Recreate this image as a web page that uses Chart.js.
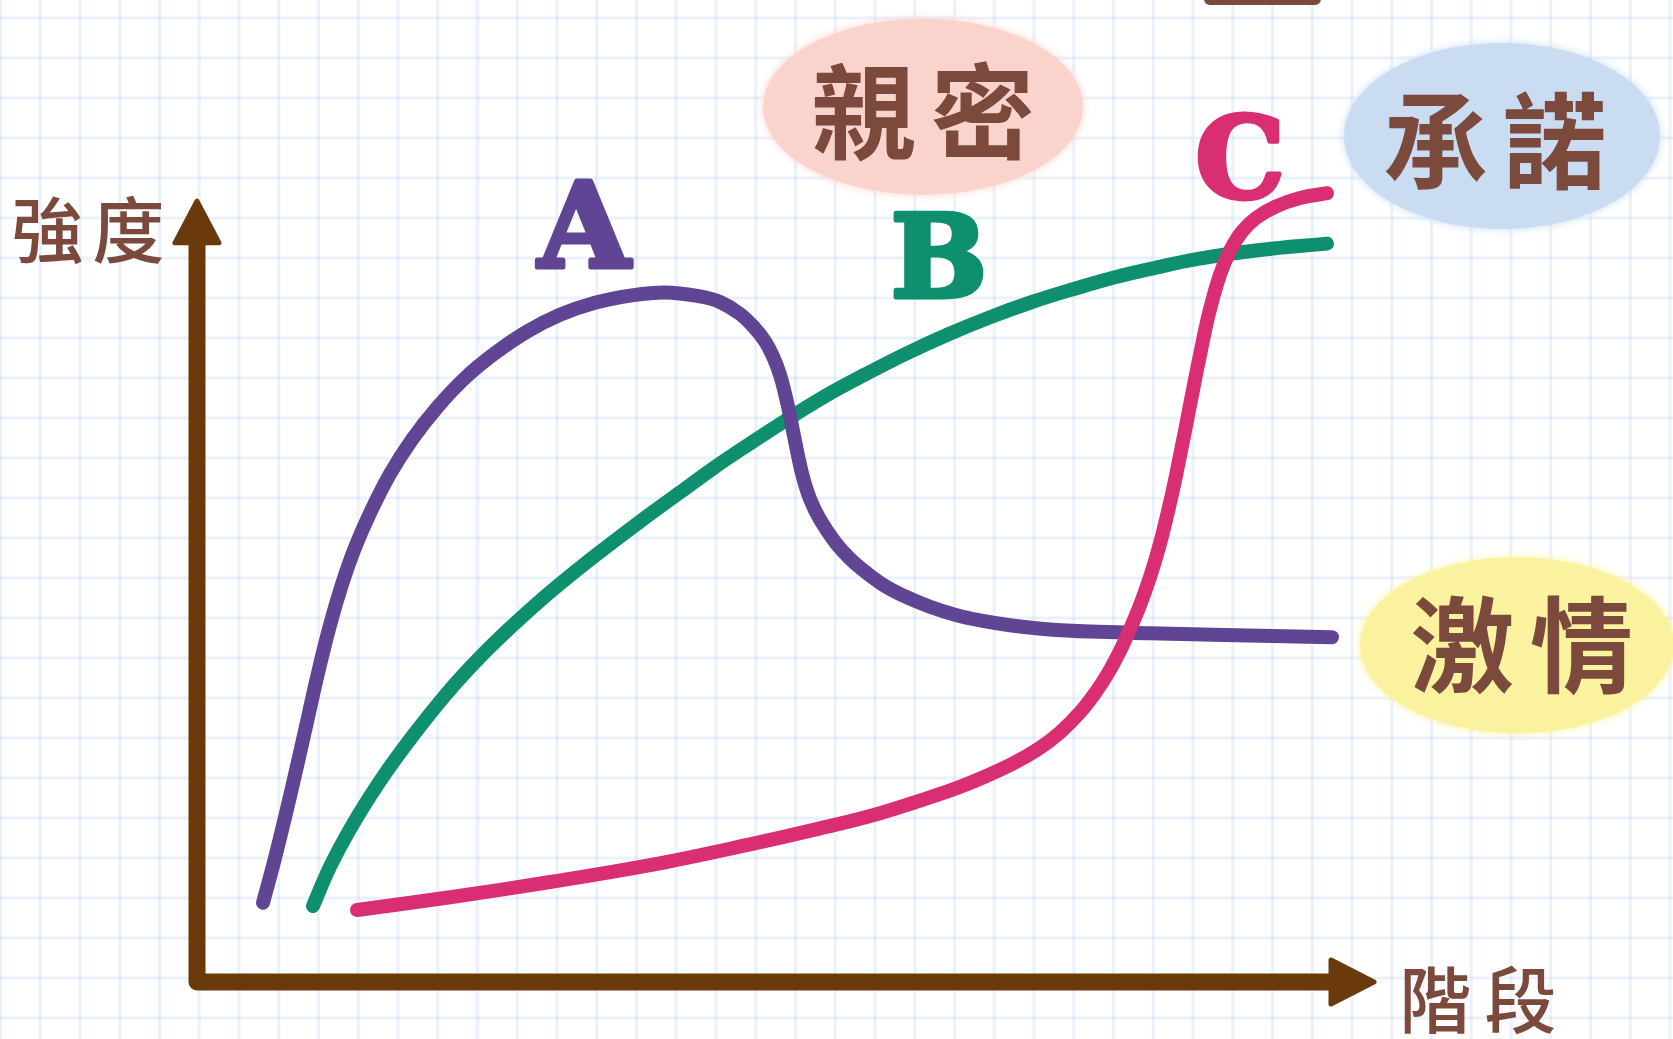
<!DOCTYPE html>
<html>
<head>
<meta charset="utf-8">
<script src="https://cdn.jsdelivr.net/npm/chart.js@4.4.1/dist/chart.umd.min.js"></script>
<style>
html,body{margin:0;padding:0;background:#fff;overflow:hidden}
canvas{display:block}
</style>
</head>
<body>
<canvas id="c" width="1673" height="1039"></canvas>
<script>
// ---- data (stage on x, intensity on y) ----
// A : 激情 (passion)
const stageA = [0.66,0.78,0.93,1.08,1.21,1.33,1.45,1.58,1.73,1.93,2.15,2.40,2.68,2.98,3.30,3.63,3.98,4.33,4.68,5.03,5.23,5.43,5.58,5.68,5.76,5.83,5.90,5.96,6.01,6.06,6.13,6.23,6.38,6.53,6.69,6.88,7.08,7.33,7.58,7.83,8.13,8.50,8.93,9.53,10.16,11.35];
const intensityA = [0.99,1.55,2.32,3.14,3.86,4.46,4.97,5.43,5.86,6.35,6.78,7.18,7.55,7.86,8.13,8.34,8.49,8.58,8.62,8.57,8.50,8.35,8.17,8.01,7.82,7.59,7.25,6.89,6.58,6.31,6.04,5.78,5.50,5.29,5.12,4.95,4.82,4.69,4.59,4.52,4.46,4.41,4.38,4.36,4.34,4.31];
// B : 親密 (intimacy)
const stageB = [1.16,1.33,1.53,1.83,2.16,2.50,2.83,3.16,3.50,3.83,4.16,4.50,4.83,5.16,5.48,5.90,6.29,6.69,7.10,7.52,7.93,8.35,8.76,9.18,9.59,10.01,10.63,11.30];
const intensityB = [0.95,1.44,1.91,2.51,3.08,3.61,4.06,4.46,4.84,5.18,5.50,5.82,6.12,6.42,6.69,7.03,7.33,7.60,7.86,8.10,8.31,8.50,8.66,8.81,8.93,9.04,9.15,9.23];
// C : 承諾 (commitment)
const stageC = [1.60,2.53,3.53,4.53,5.53,6.23,6.83,7.50,7.83,8.16,8.41,8.63,8.83,8.98,9.11,9.23,9.33,9.43,9.53,9.63,9.73,9.78,9.83,9.88,9.93,9.98,10.03,10.08,10.13,10.23,10.33,10.45,10.59,10.78,11.03,11.30];
const intensityC = [0.90,1.06,1.25,1.46,1.72,1.92,2.11,2.38,2.54,2.73,2.91,3.12,3.37,3.61,3.86,4.14,4.41,4.71,5.06,5.48,5.99,6.27,6.58,6.89,7.21,7.53,7.84,8.14,8.41,8.84,9.14,9.38,9.55,9.69,9.80,9.86];

// series letters
const seriesLetters = ['A','B','C'];
const letterX = [3.87, 7.42, 10.43];
const letterY = [8.94, 8.56, 9.81];

// component labels (on coloured blobs)
const compLabels = ['親密','承諾','激情'];
const compX = [7.26, 12.98, 13.25];
const compY = [10.875, 10.51, 4.21];
const blobX = [7.26, 13.05, 13.20];
const blobY = [10.94, 10.575, 4.21];

// axis titles
const axisTitles = ['強度','階段'];
const axisTitleX = [-1.09, 12.81];
const axisTitleY = [9.40, -0.225];

const toPts = (xs, ys) => xs.map((x, i) => ({x, y: ys[i]}));

const COL_A = '#5F4594', COL_B = '#0E8F6E', COL_C = '#D92F72';
const BROWN = '#6A3A0C', TEXT = '#7B4A3D';
const BLOB_COL = ['#FBD3CD', '#C9DCF1', '#FAF29E'];

function spaced(ctx, text, cx, cy, adv) {
  const chars = [...text];
  const start = cx - adv * (chars.length - 1) / 2;
  chars.forEach((ch, i) => ctx.fillText(ch, start + i * adv, cy));
}

const paper = {
  id: 'paper',
  beforeDraw(chart) {
    const {ctx, width, height} = chart;
    const X = v => chart.scales.x.getPixelForValue(v);
    const Y = v => chart.scales.y.getPixelForValue(v);
    ctx.save();
    ctx.fillStyle = '#ffffff';
    ctx.fillRect(0, 0, width, height);
    // graph paper
    ctx.strokeStyle = 'rgba(196,214,240,0.34)';
    ctx.lineWidth = 3;
    for (let x = 0.5; x < width; x += 39.75) {
      ctx.beginPath(); ctx.moveTo(x, 0); ctx.lineTo(x, height); ctx.stroke();
    }
    for (let y = 18; y < height; y += 40) {
      ctx.beginPath(); ctx.moveTo(0, y); ctx.lineTo(width, y); ctx.stroke();
    }
    // blobs
    const rx = [160, 158, 157], ry = [88, 93, 88];
    blobX.forEach((bx, i) => {
      ctx.save();
      ctx.fillStyle = BLOB_COL[i];
      ctx.shadowColor = BLOB_COL[i];
      ctx.shadowBlur = 8;
      ctx.beginPath();
      ctx.ellipse(X(bx), Y(blobY[i]), rx[i], ry[i], 0, 0, Math.PI * 2);
      ctx.fill();
      ctx.restore();
    });
    // top cut-off stroke
    ctx.fillStyle = TEXT;
    ctx.beginPath();
    ctx.roundRect(1204, -20, 117, 25, 6);
    ctx.fill();
    // axes
    ctx.strokeStyle = BROWN; ctx.fillStyle = BROWN;
    ctx.lineWidth = 17; ctx.lineCap = 'round'; ctx.lineJoin = 'round';
    ctx.beginPath();
    ctx.moveTo(X(0), Y(9.35));
    ctx.lineTo(X(0), Y(0));
    ctx.lineTo(X(11.45), Y(0));
    ctx.stroke();
    ctx.lineWidth = 5;
    // y arrow head
    ctx.beginPath();
    ctx.moveTo(X(0), Y(9.76));
    ctx.lineTo(X(0) - 22, Y(9.24));
    ctx.lineTo(X(0) + 22, Y(9.24));
    ctx.closePath(); ctx.fill(); ctx.stroke();
    // x arrow head
    ctx.beginPath();
    ctx.moveTo(X(11.77), Y(0));
    ctx.lineTo(X(11.34), Y(0) - 22);
    ctx.lineTo(X(11.34), Y(0) + 22);
    ctx.closePath(); ctx.fill(); ctx.stroke();
    // texts
    ctx.fillStyle = TEXT;
    ctx.textAlign = 'center';
    ctx.textBaseline = 'middle';
    ctx.font = '500 72px "Noto Sans CJK TC"';
    spaced(ctx, axisTitles[0], X(axisTitleX[0]), Y(axisTitleY[0]), 81);
    spaced(ctx, axisTitles[1], X(axisTitleX[1]), Y(axisTitleY[1]), 85);
    ctx.font = '700 104px "Noto Sans CJK TC"';
    compLabels.forEach((t, i) => spaced(ctx, t, X(compX[i]), Y(compY[i]), 119));
    ctx.restore();
  },
  afterDatasetsDraw(chart) {
    const {ctx} = chart;
    const X = v => chart.scales.x.getPixelForValue(v);
    const Y = v => chart.scales.y.getPixelForValue(v);
    const cols = [COL_A, COL_B, COL_C];
    ctx.save();
    ctx.textAlign = 'center';
    ctx.textBaseline = 'alphabetic';
    ctx.lineJoin = 'round';
    ctx.lineWidth = 5;
    const sizes = [118, 114, 112];
    seriesLetters.forEach((l, i) => {
      ctx.font = `900 ${sizes[i]}px "DejaVu Serif"`;
      ctx.fillStyle = cols[i];
      ctx.strokeStyle = cols[i];
      ctx.strokeText(l, X(letterX[i]), Y(letterY[i]));
      ctx.fillText(l, X(letterX[i]), Y(letterY[i]));
    });
    ctx.restore();
  }
};

const lineStyle = (col) => ({
  borderColor: col, backgroundColor: col, borderWidth: 14,
  pointRadius: 0, pointHoverRadius: 0, fill: false,
  tension: 0.4, borderCapStyle: 'round',
  borderJoinStyle: 'round', clip: false
});

new Chart(document.getElementById('c'), {
  type: 'line',
  data: {
    datasets: [
      Object.assign({label: 'C 承諾', data: toPts(stageC, intensityC)}, lineStyle(COL_C)),
      Object.assign({label: 'A 激情', data: toPts(stageA, intensityA)}, lineStyle(COL_A)),
      Object.assign({label: 'B 親密', data: toPts(stageB, intensityB)}, lineStyle(COL_B))
    ]
  },
  options: {
    responsive: false,
    animation: false,
    devicePixelRatio: 1,
    layout: {padding: {left: 197, right: 296, top: 182, bottom: 57}},
    elements: {line: {capBezierPoints: false}},
    scales: {
      x: {type: 'linear', min: 0, max: 11.8, display: false},
      y: {type: 'linear', min: 0, max: 10, display: false}
    },
    plugins: {legend: {display: false}, tooltip: {enabled: false}}
  },
  plugins: [paper]
});
</script>
</body>
</html>
